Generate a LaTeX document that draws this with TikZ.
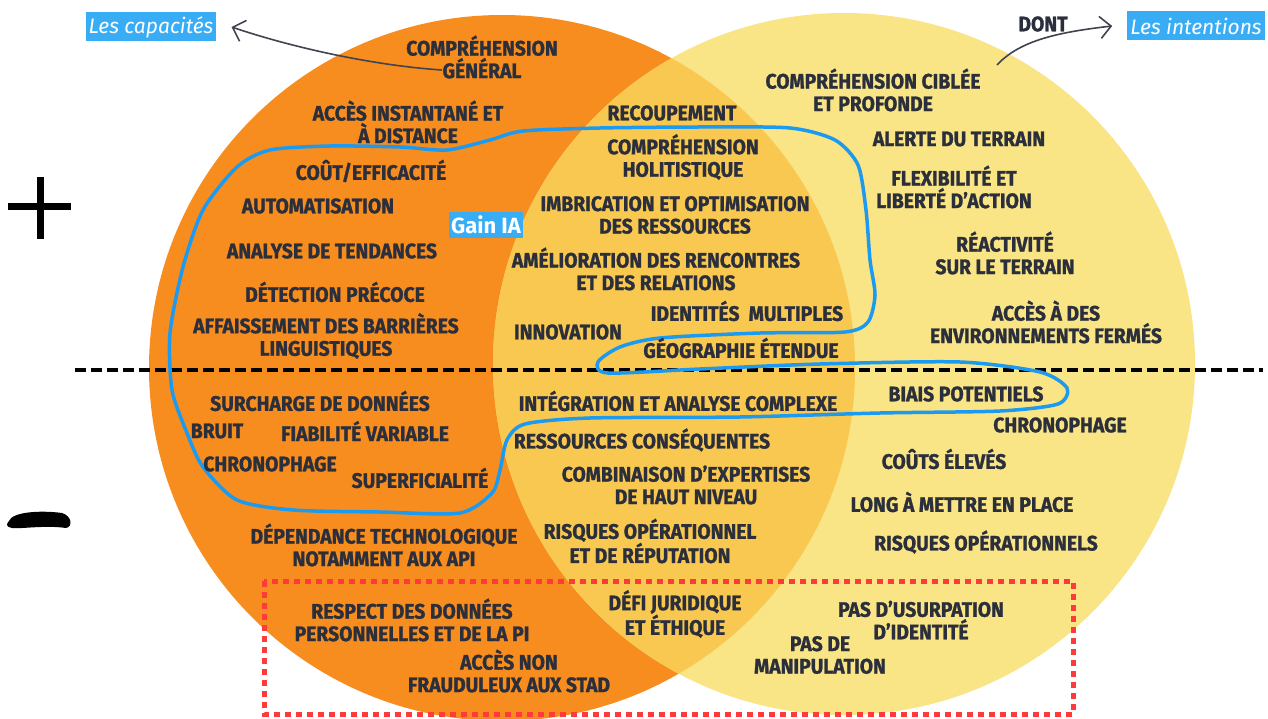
\documentclass[tikz,border=0pt]{standalone}
\usepackage{fontspec}
\setmainfont{Fira Sans}
\newfontfamily\vennfont{Fira Sans}[FakeStretch=0.92, BoldFeatures={FakeBold=1.2}]
\usetikzlibrary{arrows.meta}
\definecolor{orangevenn}{HTML}{F78D1E}
\definecolor{jaunevenn}{HTML}{F9E486}
\definecolor{mixvenn}{HTML}{F9C851}
\definecolor{texte}{HTML}{2B2F3B}
\definecolor{bleuia}{HTML}{1C9AF0}
\definecolor{bleulabel}{HTML}{38ADF5}
\definecolor{rouge}{HTML}{FF3A3A}
\newcommand{\apo}{’}

\begin{document}
\begin{tikzpicture}[x=1pt,y=-1pt]
                        \tikzstyle{item}=[font=\vennfont\bfseries\fontsize{21}{22.5}\selectfont, text=texte, align=center, inner sep=0pt]
                        \tikzstyle{etiquette}=[fill=bleulabel, text=white, font=\itshape\fontsize{21}{22}\selectfont, inner xsep=3pt, minimum height=29pt]
                        \tikzstyle{fleche}=[draw=texte!90, line width=1.6pt, -{Straight Barb[length=11pt,width=22pt,line width=1.6pt]}]
                        \useasboundingbox (0,0) rectangle (1268,719);
                        \fill[white] (0,0) rectangle (1268,719);
                        % les deux cercles
                        \fill[orangevenn] (502,368) circle[radius=353pt];
                        \fill[jaunevenn] (844,364) circle[radius=351pt];
                        \begin{scope}
                            \clip (502,368) circle[radius=353pt];
                            \fill[mixvenn] (844,364) circle[radius=351pt];
                        \end{scope}
                        % separation + / -
                        \draw[line width=3.5pt, dash pattern=on 11pt off 5pt] (75,370) -- (1263,370);
                        \draw[line width=7pt] (40,177) -- (40,239);
                        \draw[line width=7pt] (8,207) -- (71,207);
                        \fill (9,521) .. controls (12,512) and (40,510) .. (62,513)
                            .. controls (72,516) and (73,527) .. (66,528)
                            .. controls (45,525) and (22,529) .. (12,528)
                            .. controls (6,527) and (6,524) .. (9,521) -- cycle;
                        % contour Gain IA
                        \draw[bleuia, line width=3.5pt, line join=round] plot[smooth cycle, tension=0.45] coordinates {
                            (270,150) (330,146) (400,147) (447,150) (490,140) (523,131) (600,128)
                            (700,127) (790,128) (835,140) (858,165) (866,210) (870,260) (875,295)
                            (868,322) (845,332) (760,333) (660,338) (620,347) (598,362) (608,373)
                            (700,369) (820,364) (960,362) (1040,372) (1067,388) (1058,404) (1000,411)
                            (880,413) (740,417) (590,418) (525,424) (507,440) (500,470) (492,493)
                            (460,513) (380,512) (293,510) (237,500) (203,467) (187,433) (172,390)
                            (170,333) (183,267) (203,210) (237,167)};
                        % cadre rouge
                        \draw[rouge, line width=5pt, dash pattern=on 6pt off 5pt] (264,581) rectangle (1073,714);
                        % etiquettes
                        \node[etiquette] (capacites) at (151,27) {Les capacités};
                        \node[etiquette] (intentions) at (1196,26) {Les intentions};
                        \node[etiquette, font=\bfseries\fontsize{22}{24}\selectfont, inner xsep=2pt, minimum height=26pt] (gain) at (486,225) {Gain IA};
                        \node[item] (dont) at (1043,24) {DONT};
                        \coordinate (departG) at (442,70);
                        \coordinate (departD) at (997,65);
                        \draw[fleche] (departG) .. controls (380,66) and (300,50) .. ([xshift=15pt]capacites.east);
                        \draw[fleche] (departD) .. controls (1020,40) and (1060,32) .. ([xshift=-15pt]intentions.west);
                        % capacites, +
                        \node[item] (compgen) at (482,57) {COMPRÉHENSION\\GÉNÉRAL};
                        \node[item] (acces) at (408,122) {ACCÈS INSTANTANÉ ET\\À DISTANCE};
                        \node[item] (cout) at (371,171) {COÛT/EFFICACITÉ};
                        \node[item] (auto) at (318,206) {AUTOMATISATION};
                        \node[item] (tendances) at (332,251) {ANALYSE DE TENDANCES};
                        \node[item] (detection) at (335,292) {DÉTECTION PRÉCOCE};
                        \node[item] (barrieres) at (326,336) {AFFAISSEMENT DES BARRIÈRES\\LINGUISTIQUES};
                        % capacites, -
                        \node[item] (surcharge) at (320,401) {SURCHARGE DE DONNÉES};
                        \node[item] (bruit) at (217,431) {BRUIT};
                        \node[item] (fiabilite) at (365,431) {FIABILITÉ VARIABLE};
                        \node[item] (chronoG) at (270,464) {CHRONOPHAGE};
                        \node[item] (superf) at (420,478) {SUPERFICIALITÉ};
                        \node[item] (dependance) at (384,545) {DÉPENDANCE TECHNOLOGIQUE\\NOTAMMENT AUX API};
                        \node[item] (respect) at (412,620) {RESPECT DES DONNÉES\\PERSONNELLES ET DE LA PI};
                        \node[item] (stad) at (509,671) {ACCÈS NON\\FRAUDULEUX AUX STAD};
                        % recoupement, +
                        \node[item] (recoup) at (672,113) {RECOUPEMENT};
                        \node[item] (holist) at (683,157) {COMPRÉHENSION\\HOLITISTIQUE};
                        \node[item] (imbric) at (675,215) {IMBRICATION ET OPTIMISATION\\DES RESSOURCES};
                        \node[item] (rencontres) at (656,269) {AMÉLIORATION DES RENCONTRES\\ET DES RELATIONS};
                        \node[item] (innov) at (568,332) {INNOVATION};
                        \node[item] (identites) at (747,311) {IDENTITÉS~~MULTIPLES};
                        \node[item] (geo) at (741,348) {GÉOGRAPHIE ÉTENDUE};
                        % recoupement, -
                        \node[item] (integr) at (678,401) {INTÉGRATION ET ANALYSE COMPLEXE};
                        \node[item] (ressources) at (642,440) {RESSOURCES CONSÉQUENTES};
                        \node[item] (expertises) at (686,485) {COMBINAISON D\apo EXPERTISES\\DE HAUT NIVEAU};
                        \node[item] (reputation) at (650,541) {RISQUES OPÉRATIONNEL\\ET DE RÉPUTATION};
                        \node[item] (juridique) at (675,614) {DÉFI JURIDIQUE\\ET ÉTHIQUE};
                        % intentions, +
                        \node[item] (ciblee) at (873,90) {COMPRÉHENSION CIBLÉE\\ET PROFONDE};
                        \node[item] (alerte) at (959,139) {ALERTE DU TERRAIN};
                        \node[item] (flex) at (954,187) {FLEXIBILITÉ ET\\LIBERTÉ D\apo ACTION};
                        \node[item] (reactiv) at (1005,253) {RÉACTIVITÉ\\SUR LE TERRAIN};
                        \node[item] (fermes) at (1046,322) {ACCÈS À DES\\ENVIRONNEMENTS FERMÉS};
                        % intentions, -
                        \node[item] (biais) at (966,394) {BIAIS POTENTIELS};
                        \node[item] (chronoD) at (1060,425) {CHRONOPHAGE};
                        \node[item] (couts) at (944,459) {COÛTS ÉLEVÉS};
                        \node[item] (long) at (962,502) {LONG À METTRE EN PLACE};
                        \node[item] (risques) at (986,542) {RISQUES OPÉRATIONNELS};
                        \node[item] (usurp) at (921,620) {PAS D\apo USURPATION\\D\apo IDENTITÉ};
                        \node[item] (manip) at (820,655) {PAS DE\\MANIPULATION};
\end{tikzpicture}
\end{document}
